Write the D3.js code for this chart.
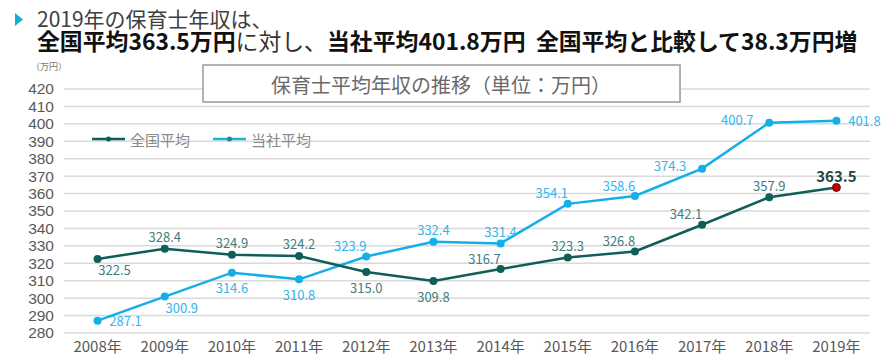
<!DOCTYPE html>
<html>
<head>
<meta charset="utf-8">
<script src="https://cdn.jsdelivr.net/npm/d3@7"></script>
<style>
  html, body { margin: 0; padding: 0; background: #fff; }
  svg { display: block; font-family: "Noto Sans CJK JP", "Noto Sans", sans-serif; }
</style>
</head>
<body>
<svg id="chart" width="886" height="364"></svg>
<script>
// data
var years = ["2008年","2009年","2010年","2011年","2012年","2013年","2014年","2015年","2016年","2017年","2018年","2019年"];
var national = [322.5, 328.4, 324.9, 324.2, 315.0, 309.8, 316.7, 323.3, 326.8, 342.1, 357.9, 363.5];
var company = [287.1, 300.9, 314.6, 310.8, 323.9, 332.4, 331.4, 354.1, 358.6, 374.3, 400.7, 401.8];
var yTicks = [280, 290, 300, 310, 320, 330, 340, 350, 360, 370, 380, 390, 400, 410, 420];
var seriesNames = ["全国平均", "当社平均"];

// where each value label sits relative to its point
var nationalPlace = ["below-r","above","above","above","below","below","above-l","above","above-l","above-l","above","above"];
var companyPlace = ["right","below-r","below","below","above-l","above","above","above-l","above-l","left","left","right"];
var offsets = {
    "above": [0, -12], "below": [0, 15], "below-r": [17, 11],
    "above-l": [-16, -11], "left": [-32, -3], "right": [28, 0]
};

var darkCol = "#0f5e59";
var cyanCol = "#14aee8";

var svg = d3.select("#chart");

var x = d3.scaleBand().domain(years).range([64, 870]);
var y = d3.scaleLinear().domain([280, 420]).range([333, 89]);
function cx(d, i) { return x(years[i]) + x.bandwidth() / 2; }

// heading
svg.append("path")
    .attr("d", "M15,13 L23,19.5 L15,26 Z")
    .attr("fill", "#1aaace");

svg.append("text")
    .attr("x", 37).attr("y", 27)
    .attr("font-size", 21)
    .attr("fill", "#404040")
    .text("2019年の保育士年収は、");

var line2 = svg.append("text")
    .attr("x", 37).attr("y", 50)
    .attr("font-size", 22)
    .attr("fill", "#111");
line2.append("tspan").attr("font-weight", "bold").text("全国平均363.5万円");
line2.append("tspan").attr("fill", "#333").text("に対し、");
line2.append("tspan").attr("font-weight", "bold").text("当社平均401.8万円\u00a0\u00a0全国平均と比較して38.3万円増");
var w2 = line2.node().getComputedTextLength();
line2.attr("font-size", 22 * 821 / w2);

// unit
svg.append("text")
    .attr("x", 49).attr("y", 70)
    .attr("text-anchor", "middle")
    .attr("font-size", 9)
    .attr("fill", "#777")
    .text("（万円）");

// grid
svg.append("g").selectAll("line")
    .data(yTicks)
    .join("line")
    .attr("x1", 64).attr("x2", 870)
    .attr("y1", function(d) { return y(d); })
    .attr("y2", function(d) { return y(d); })
    .attr("stroke", "#dadada")
    .attr("stroke-width", 1.5);

var yAxis = d3.axisLeft(y).tickValues(yTicks).tickSize(0).tickPadding(0);
var gy = svg.append("g").attr("transform", "translate(54,0)").call(yAxis);
gy.select(".domain").remove();
gy.selectAll("text").attr("font-size", 15.5).attr("fill", "#595959")
    .attr("font-family", "\"Liberation Sans\", Arial, sans-serif");

var xAxis = d3.axisBottom(x).tickSize(0).tickPadding(0);
var gx = svg.append("g").attr("transform", "translate(0,341)").call(xAxis);
gx.select(".domain").remove();
gx.selectAll("text").attr("font-size", 15).attr("fill", "#595959")
    .attr("font-family", "\"Noto Sans CJK JP\", sans-serif");

// title box
svg.append("rect")
    .attr("x", 204).attr("y", 66)
    .attr("width", 477).attr("height", 37)
    .attr("fill", "#e4e4e4");
svg.append("rect")
    .attr("x", 203).attr("y", 65)
    .attr("width", 477).attr("height", 37)
    .attr("fill", "#fff")
    .attr("stroke", "#9a9a9a")
    .attr("stroke-width", 1.5);
svg.append("text")
    .attr("x", 441).attr("y", 84)
    .attr("text-anchor", "middle")
    .attr("dominant-baseline", "central")
    .attr("font-size", 20)
    .attr("fill", "#6a6a6a")
    .text("保育士平均年収の推移（単位：万円）");

// legend
var legend = [
    {name: seriesNames[0], col: darkCol, x0: 92},
    {name: seriesNames[1], col: "#1bb6d2", x0: 213}
];
legend.forEach(function(l, i) {
    svg.append("line")
        .attr("x1", l.x0).attr("x2", l.x0 + 33)
        .attr("y1", 139).attr("y2", 139)
        .attr("stroke", l.col).attr("stroke-width", 2.5);
    svg.append("circle")
        .attr("cx", l.x0 + 16.5).attr("cy", 139).attr("r", 2.5)
        .attr("fill", i == 0 ? darkCol : "#1a8f9a");
    svg.append("text")
        .attr("x", l.x0 + 38).attr("y", 139)
        .attr("dominant-baseline", "central")
        .attr("font-size", 15)
        .attr("fill", "#8a8a8a")
        .text(l.name);
});

var line = d3.line()
    .x(cx)
    .y(function(d) { return y(d); });

function drawSeries(vals, col, labelCol, place) {
    svg.append("path")
        .datum(vals)
        .attr("d", line)
        .attr("fill", "none")
        .attr("stroke", col)
        .attr("stroke-width", 2.5);
    svg.append("g").selectAll("circle")
        .data(vals)
        .join("circle")
        .attr("cx", cx)
        .attr("cy", function(d) { return y(d); })
        .attr("r", 4)
        .attr("fill", col);
    return svg.append("g").selectAll("text")
        .data(vals)
        .join("text")
        .attr("x", function(d, i) { return cx(d, i) + offsets[place[i]][0]; })
        .attr("y", function(d, i) { return y(d) + offsets[place[i]][1]; })
        .attr("text-anchor", "middle")
        .attr("dominant-baseline", "central")
        .attr("font-size", 13)
        .attr("fill", labelCol)
        .text(function(d) { return d.toFixed(1); });
}

drawSeries(company, cyanCol, "#33b5ee", companyPlace);
var natLabels = drawSeries(national, darkCol, "#3f7e7b", nationalPlace);

// highlight the latest national value
var last = national.length - 1;
svg.append("circle")
    .attr("cx", cx(null, last))
    .attr("cy", y(national[last]))
    .attr("r", 4)
    .attr("fill", "#c00000")
    .attr("stroke", "#5a1010")
    .attr("stroke-width", 0.8);
natLabels.filter(function(d, i) { return i === last; })
    .attr("font-weight", "bold")
    .attr("font-size", 15)
    .attr("fill", "#1d4845")
    .attr("y", y(national[last]) - 12);
</script>
</body>
</html>
